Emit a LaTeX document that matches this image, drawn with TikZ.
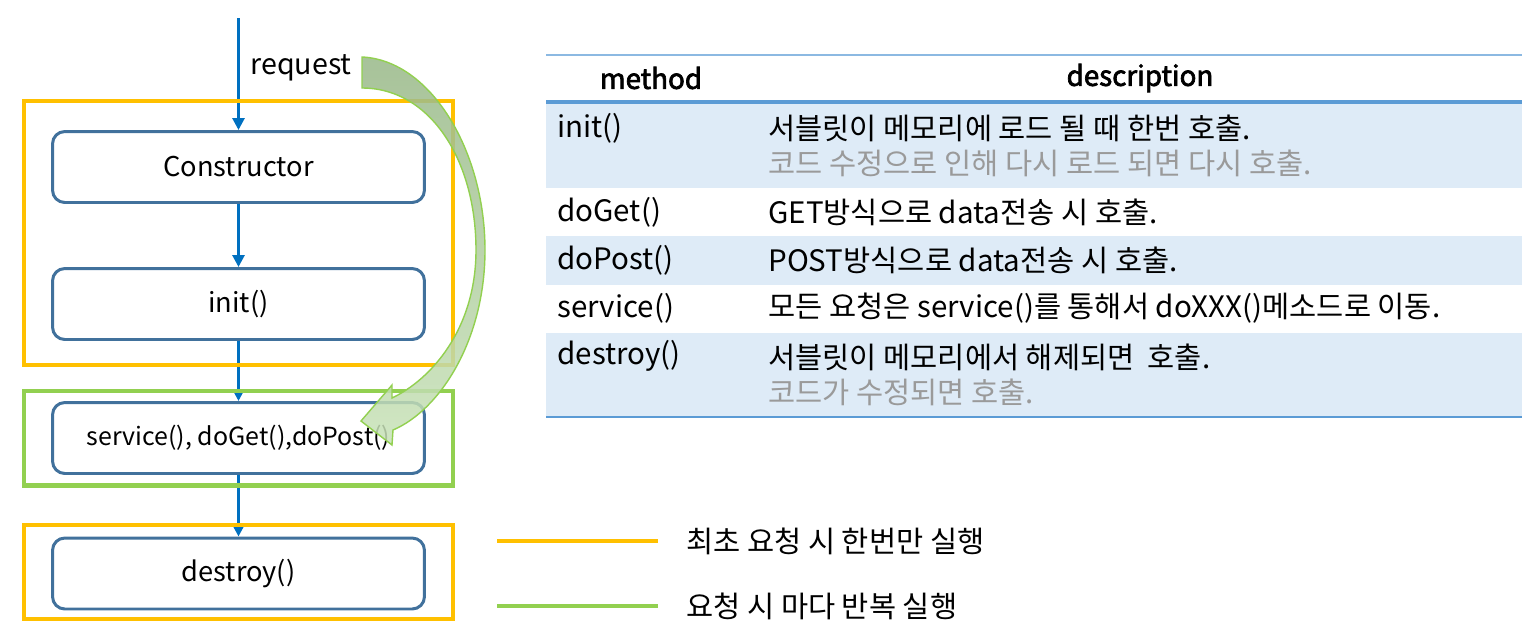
\documentclass[tikz,border=0pt]{standalone}
\usepackage{fontspec}
\setmainfont{Noto Sans CJK KR}
\usetikzlibrary{arrows.meta,positioning,fit}
\definecolor{flowblue}{HTML}{0070C0}
\definecolor{boxblue}{HTML}{41719C}
\definecolor{once}{HTML}{FFC000}
\definecolor{every}{HTML}{92D050}
\definecolor{rule}{HTML}{5B9BD5}
\definecolor{rowfill}{HTML}{DEEBF7}
\definecolor{note}{HTML}{9A9A9A}
\definecolor{loopdark}{HTML}{98B888}
\definecolor{looplight}{HTML}{C8E2B8}
\tikzset{stage/.style={draw=boxblue,line width=1.7pt,rounded corners=7pt,minimum width=7.44cm,
  minimum height=1.42cm,font=\fontsize{15.5}{19}\selectfont},
  call/.style={-{Triangle[length=2.4mm,width=2.4mm]},line width=1.6pt,draw=flowblue},
  frame/.style={line width=2.3pt,inner xsep=0.54cm},
  cell/.style={anchor=west,align=left,inner sep=0pt,font=\fontsize{16.8}{20}\selectfont},
  head/.style={font=\fontsize{15.8}{19}\selectfont\addfontfeatures{FakeBold=2.5}}}
\begin{document}
\begin{tikzpicture}[x=0.02cm,y=-0.02cm]
\useasboundingbox (0,0) rectangle (1529,633);
% servlet life cycle
\node[stage] (cons) at (238.5,167) {Constructor};
\node[stage] (init) at (238.5,304) {init()};
\node[stage,font=\fontsize{14.2}{17}\selectfont] (serv) at (238.5,438) {service(), doGet(),doPost()};
\node[stage] (dest) at (238.5,573.5) {destroy()};
\coordinate (src) at (238.5,18);
\draw[call] (src)--(cons);\draw[call] (cons)--(init);\draw[call] (init)--(serv);\draw[call] (serv)--(dest);
\node[cell,font=\fontsize{16.3}{19}\selectfont] (req) at (250,68) {request};
\node[frame,draw=once,fit=(cons)(init),inner ysep=0.53cm,yshift=0.05cm] (first) {};
\node[frame,draw=every,fit=(serv),inner ysep=0.21cm] (each) {};
\node[frame,draw=once,fit=(dest),inner ysep=0.2cm,yshift=0.03cm] (last) {};
% method table
\fill[rowfill] (546,102) rectangle (1522,188);
\fill[rowfill] (546,236) rectangle (1522,285);
\fill[rowfill] (546,333) rectangle (1522,417);
\draw[rule!70,line width=0.8pt] (546,55)--(1522,55);
\draw[rule,line width=1.8pt] (546,102)--(1522,102);
\draw[rule,line width=1.2pt] (546,417)--(1522,417);
\node[head] (hm) at (651,78) {method};
\node[head] (hd) at (1140,78) {description};
\node[cell] (m1) at (557,128) {init()};
\node[cell] (d1) at (768,145.5) {서블릿이 메모리에 로드 될 때 한번 호출.\\\textcolor{note}{코드 수정으로 인해 다시 로드 되면 다시 호출.}};
\node[cell] (m2) at (557,212) {doGet()};
\node[cell] (d2) at (768,212) {GET방식으로 data전송 시 호출.};
\node[cell] (m3) at (557,260) {doPost()};
\node[cell] (d3) at (768,260) {POST방식으로 data전송 시 호출.};
\node[cell] (m4) at (557,308) {service()};
\node[cell] (d4) at (768,308) {모든 요청은 service()를 통해서 doXXX()메소드로 이동.};
\node[cell] (m5) at (557,356) {destroy()};
\node[cell] (d5) at (768,374.5) {서블릿이 메모리에서 해제되면~~호출.\\\textcolor{note}{코드가 수정되면 호출.}};
% legend
\coordinate (o1) at (497,541);\coordinate (o2) at (658,541);
\coordinate (e1) at (497,606);\coordinate (e2) at (658,606);
\draw[once,line width=2.8pt] (o1)--(o2);
\draw[every,line width=2.8pt] (e1)--(e2);
\node[cell] (oncetxt) at (686,541) {최초 요청 시 한번만 실행};
\node[cell] (eachtxt) at (686,606) {요청 시 마다 반복 실행};
% repeat arrow
\path[draw=every,line width=0.8pt,top color=loopdark,bottom color=looplight,fill opacity=0.85]
  (362,57) .. controls (430,60) and (485,150) .. (485,250)
  .. controls (485,340) and (440,410) .. (393,430) -- (392,445) -- (361,421) -- (392,385) -- (392,398)
  .. controls (430,380) and (476,330) .. (476,250)
  .. controls (476,160) and (430,88) .. (362,88) -- cycle;
\end{tikzpicture}
\end{document}
